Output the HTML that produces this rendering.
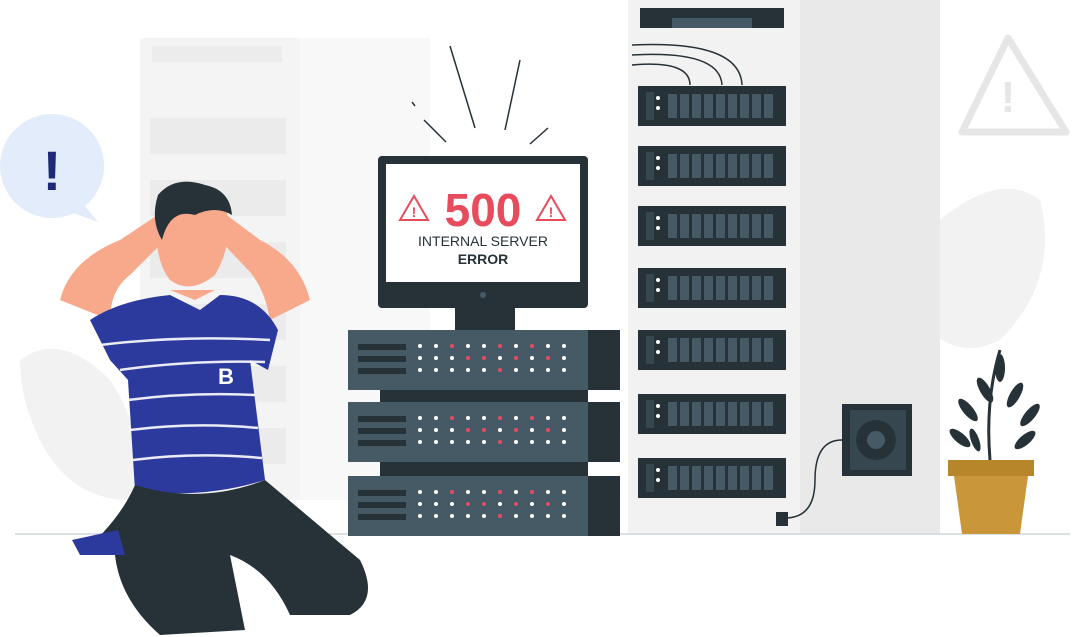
<!DOCTYPE html>
<html><head><meta charset="utf-8"><style>
html,body{margin:0;padding:0;background:#fff;width:1074px;height:637px;overflow:hidden}
svg{display:block}
text{font-family:"Liberation Sans",sans-serif}
</style></head><body>
<svg width="1074" height="637" viewBox="0 0 1074 637" xmlns="http://www.w3.org/2000/svg">
<!-- faded left rack -->
<rect x="140" y="38" width="160" height="462" fill="#f4f4f4"/>
<rect x="300" y="38" width="130" height="462" fill="#f8f8f8"/>
<rect x="152" y="46" width="130" height="16" fill="#ececec"/>
<g fill="#ebebeb">
<rect x="150" y="118" width="136" height="36"/><rect x="150" y="180" width="136" height="36"/>
<rect x="150" y="242" width="136" height="36"/><rect x="150" y="304" width="136" height="36"/>
<rect x="150" y="366" width="136" height="36"/><rect x="150" y="428" width="136" height="36"/>
</g>
<!-- faded leaves -->
<path d="M20 360 Q60 330 110 380 Q150 440 130 500 Q70 500 40 440 Q20 400 20 360Z" fill="#f2f2f2"/>
<path d="M940 220 Q1000 170 1040 200 Q1060 280 1000 340 Q960 360 930 330Z" fill="#f2f2f2"/>
<!-- warning triangle top right -->
<path d="M1008 38 L1066 132 L962 132 Z" fill="none" stroke="#e6e6e6" stroke-width="7" stroke-linejoin="round"/>
<text x="1008" y="112" font-size="44" font-weight="bold" fill="#e6e6e6" text-anchor="middle">!</text>
<!-- right rack -->
<rect x="628" y="0" width="172" height="535" fill="#f2f2f2"/>
<rect x="800" y="0" width="140" height="535" fill="#e9e9e9"/>
<rect x="640" y="8" width="144" height="20" fill="#263238"/>
<rect x="672" y="18" width="80" height="10" fill="#455a64"/>
<path d="M632 45 Q740 40 742 85 M632 55 Q720 50 722 85 M632 65 Q690 60 690 85" fill="none" stroke="#263238" stroke-width="1.5"/>
<g id="su">
<rect x="638" y="86" width="148" height="40" fill="#263238"/>
<rect x="646" y="92" width="8" height="28" fill="#37474f"/>
<circle cx="658" cy="98" r="2" fill="#fff"/><circle cx="658" cy="108" r="2" fill="#fff"/>
<g fill="#455a64"><rect x="668" y="94" width="9" height="24"/><rect x="680" y="94" width="9" height="24"/><rect x="692" y="94" width="9" height="24"/><rect x="704" y="94" width="9" height="24"/><rect x="716" y="94" width="9" height="24"/><rect x="728" y="94" width="9" height="24"/><rect x="740" y="94" width="9" height="24"/><rect x="752" y="94" width="9" height="24"/><rect x="764" y="94" width="9" height="24"/></g>
</g>
<use href="#su" y="60"/><use href="#su" y="120"/><use href="#su" y="182"/>
<use href="#su" y="244"/><use href="#su" y="308"/><use href="#su" y="372"/>
<!-- fan box -->
<rect x="842" y="404" width="70" height="72" fill="#263238"/>
<rect x="850" y="410" width="56" height="60" fill="#37474f"/>
<circle cx="876" cy="440" r="20" fill="#263238"/><circle cx="876" cy="440" r="9" fill="#455a64"/>
<path d="M842 440 Q815 440 815 480 Q815 518 785 518" fill="none" stroke="#263238" stroke-width="1.5"/>
<rect x="776" y="512" width="12" height="14" fill="#263238"/>
<!-- ground -->
<line x1="15" y1="534" x2="1070" y2="534" stroke="#cfd8dc" stroke-width="1.5"/>
<!-- plant -->
<g fill="#263238">
<path d="M990 460 Q985 400 1000 350" stroke="#263238" stroke-width="3" fill="none"/>
<ellipse cx="1000" cy="368" rx="5" ry="14"/><ellipse cx="985" cy="390" rx="5" ry="14" transform="rotate(-30 985 390)"/>
<ellipse cx="1015" cy="395" rx="5" ry="14" transform="rotate(30 1015 395)"/><ellipse cx="968" cy="410" rx="5" ry="14" transform="rotate(-40 968 410)"/>
<ellipse cx="1030" cy="415" rx="5" ry="14" transform="rotate(40 1030 415)"/><ellipse cx="960" cy="438" rx="5" ry="13" transform="rotate(-50 960 438)"/>
<ellipse cx="1025" cy="440" rx="5" ry="13" transform="rotate(50 1025 440)"/><ellipse cx="975" cy="440" rx="4" ry="12" transform="rotate(-20 975 440)"/>
</g>
<rect x="948" y="460" width="86" height="16" fill="#b7862b"/>
<path d="M954 476 L1028 476 L1020 534 L962 534 Z" fill="#c9963a"/>
<!-- monitor -->
<rect x="455" y="300" width="60" height="32" fill="#263238"/>
<rect x="378" y="156" width="210" height="152" rx="4" fill="#263238"/>
<rect x="386" y="164" width="194" height="118" fill="#fff"/>
<circle cx="483" cy="295" r="3" fill="#455a64"/>
<text x="483" y="226" font-size="46" font-weight="bold" fill="#e74c5c" text-anchor="middle">500</text>
<path d="M414 196 L428 220 L400 220 Z" fill="none" stroke="#e74c5c" stroke-width="2"/>
<text x="414" y="217" font-size="14" font-weight="bold" fill="#e74c5c" text-anchor="middle">!</text>
<path d="M551 196 L565 220 L537 220 Z" fill="none" stroke="#e74c5c" stroke-width="2"/>
<text x="551" y="217" font-size="14" font-weight="bold" fill="#e74c5c" text-anchor="middle">!</text>
<text x="483" y="246" font-size="14" fill="#263238" text-anchor="middle">INTERNAL SERVER</text>
<text x="483" y="264" font-size="14" font-weight="bold" fill="#263238" text-anchor="middle">ERROR</text>
<g stroke="#263238" stroke-width="1.5">
<line x1="450" y1="46" x2="475" y2="128"/><line x1="520" y1="60" x2="505" y2="130"/>
<line x1="424" y1="120" x2="446" y2="142"/><line x1="548" y1="128" x2="530" y2="144"/><line x1="412" y1="102" x2="415" y2="106"/>
</g>
<!-- server stack -->
<g id="ss">
<rect x="348" y="330" width="240" height="60" fill="#455a64"/>
<rect x="588" y="330" width="32" height="60" fill="#263238"/>
<rect x="358" y="344" width="48" height="6" fill="#263238"/><rect x="358" y="356" width="48" height="6" fill="#263238"/><rect x="358" y="368" width="48" height="6" fill="#263238"/>
<g fill="#fff">
<circle cx="420" cy="346" r="2"/><circle cx="436" cy="346" r="2"/><circle cx="452" cy="346" r="2" fill="#e74c5c"/><circle cx="468" cy="346" r="2"/><circle cx="484" cy="346" r="2"/><circle cx="500" cy="346" r="2" fill="#e74c5c"/><circle cx="516" cy="346" r="2"/><circle cx="532" cy="346" r="2" fill="#e74c5c"/><circle cx="548" cy="346" r="2"/><circle cx="564" cy="346" r="2"/>
<circle cx="420" cy="358" r="2"/><circle cx="436" cy="358" r="2"/><circle cx="452" cy="358" r="2"/><circle cx="468" cy="358" r="2" fill="#e74c5c"/><circle cx="484" cy="358" r="2" fill="#e74c5c"/><circle cx="500" cy="358" r="2"/><circle cx="516" cy="358" r="2" fill="#e74c5c"/><circle cx="532" cy="358" r="2"/><circle cx="548" cy="358" r="2" fill="#e74c5c"/><circle cx="564" cy="358" r="2"/>
<circle cx="420" cy="370" r="2"/><circle cx="436" cy="370" r="2"/><circle cx="452" cy="370" r="2"/><circle cx="468" cy="370" r="2"/><circle cx="484" cy="370" r="2"/><circle cx="500" cy="370" r="2" fill="#e74c5c"/><circle cx="516" cy="370" r="2"/><circle cx="532" cy="370" r="2"/><circle cx="548" cy="370" r="2"/><circle cx="564" cy="370" r="2"/>
</g>
</g>
<rect x="380" y="390" width="208" height="12" fill="#263238"/>
<use href="#ss" y="72"/>
<rect x="380" y="462" width="208" height="14" fill="#263238"/>
<use href="#ss" y="146" transform="translate(0,0)"/>
<!-- speech bubble -->
<circle cx="52" cy="166" r="52" fill="#e3ecfa"/>
<path d="M80 200 L98 222 L70 212 Z" fill="#e3ecfa"/>
<text x="52" y="190" font-size="56" font-weight="bold" fill="#1e2a78" text-anchor="middle">!</text>
<!-- person -->
<path d="M60 300 Q70 260 120 240 L165 210 L175 230 L130 275 Q110 290 110 320Z" fill="#f8a98c"/>
<path d="M310 300 Q300 260 260 240 L220 210 L212 232 L250 272 Q265 290 270 320Z" fill="#f8a98c"/>
<path d="M160 200 Q190 180 225 205 Q235 240 215 275 Q190 295 170 280 Q150 255 160 200Z" fill="#f8a98c"/>
<path d="M158 195 Q175 175 205 185 Q230 190 232 215 Q215 205 195 215 Q170 208 162 240 Q150 220 158 195Z" fill="#263238"/>
<path d="M170 290 L195 300 L215 290 Z" fill="#f8a98c"/>
<path d="M90 320 Q120 300 170 295 L200 310 L220 295 Q260 295 278 330 L268 370 L250 360 L265 480 Q200 500 135 490 L128 380 L110 360 Z" fill="#2c3a9e"/>
<g stroke="#fff" stroke-width="2.5" fill="none" opacity="0.9">
<path d="M100 345 Q180 335 270 340"/><path d="M120 370 Q190 360 265 362"/><path d="M128 400 Q190 392 255 395"/><path d="M130 430 Q195 422 258 428"/><path d="M133 460 Q195 452 262 458"/>
</g>
<text x="226" y="384" font-size="22" font-weight="bold" fill="#fff" text-anchor="middle">B</text>
<path d="M135 485 Q200 505 265 480 L360 560 Q380 600 350 615 L290 615 Q270 570 230 555 L245 630 L160 635 Q120 600 115 555 L80 555 Q120 520 135 485Z" fill="#263238"/>
<path d="M72 540 L118 530 L125 555 L80 555 Z" fill="#2c3a9e"/>
</svg>
</body></html>
